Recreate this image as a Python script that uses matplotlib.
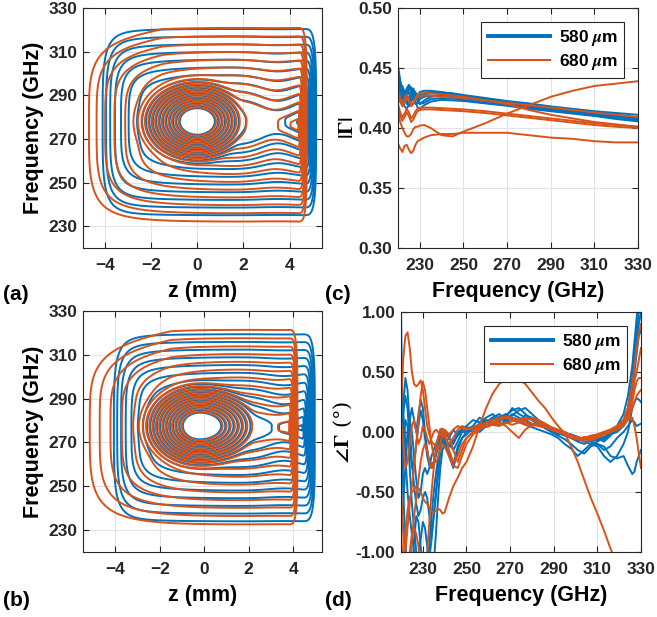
import numpy as np
import matplotlib
matplotlib.use("Agg")
import matplotlib.pyplot as plt
from matplotlib.lines import Line2D
from matplotlib.ticker import FormatStrFormatter

plt.rcParams["font.family"] = ["Liberation Sans", "DejaVu Sans"]
plt.rcParams["font.weight"] = "bold"
plt.rcParams["mathtext.fontset"] = "stix"

BLUE = "#0072BD"
ORANGE = "#D95319"

# ---------------------------------------------------------------- field maps
# Shape parameters of the four measured field maps:
#   z0/sl/sr  : wall position and left/right reach (mm)
#   f0/half   : band centre and half width (GHz)
#   wa/wq     : left-wall profile, tl: top-left roll-off
#   zn/an     : position and strength of the neck between spot and wall
#   zb/fb/kzl/kzr/slope/off : central spot
map_a_580 = dict(z0=4.6, sl=8.7, sr=0.55, f0=277.7, half=42.7, wa=0.55, wq=10, tl=0.0,
                 zn=3.5, an=6.0,
                 zb=0.0, fb=278.0, kzl=8.0, kzr=8.0, slope=3.0, off=38.5)
map_a_680 = dict(z0=4.35, sl=9.05, sr=0.40, f0=276.5, half=44.5, wa=0.7, wq=6, tl=0.04,
                 zn=3.4, an=6.0,
                 zb=0.0, fb=278.0, kzl=8.0, kzr=8.0, slope=3.0, off=38.5)
map_b_580 = dict(z0=4.4, sl=8.5, sr=0.60, f0=276.7, half=43.7, wa=0.55, wq=10, tl=0.0,
                 zn=3.6, an=5.0,
                 zb=-0.2, fb=277.5, kzl=8.0, kzr=6.3, slope=3.0, off=38.5)
map_b_680 = dict(z0=3.8, sl=8.9, sr=0.40, f0=277.0, half=44.0, wa=0.8, wq=5, tl=0.04,
                 zn=3.3, an=3.5,
                 zb=-0.2, fb=277.5, kzl=8.0, kzr=6.3, slope=3.0, off=38.5)

levels_580 = [-20.3, -16.8, -13.3, -9.8, -6.3, -2.8, 0.7, 4.2, 7.7, 11.2, 14.7,
              18.2, 21.7, 25.2, 28.7, 32.2, 35.7, 39.2, 42.7]
levels_680 = [-19.1, -15.6, -12.1, -8.6, -5.1, -1.6, 1.9, 5.4, 8.9, 12.4, 15.9,
              19.4, 22.9, 26.4, 29.9, 33.4, 36.9, 40.6, 44.4]

# ---------------------------------------------------------------- |Gamma|
freq_c = [220, 221, 222, 223, 224, 225, 226, 227, 228, 229, 230, 232, 235,
          240, 245, 250, 260, 270, 280, 290, 300, 310, 320, 330]
mag_580 = [
    [.452, .440, .432, .428, .433, .436, .433, .428, .425, .426, .428, .429, .430, .4295, .429, .4275, .425, .4225, .4205, .418, .416, .414, .4125, .411],
    [.440, .436, .430, .425, .428, .432, .434, .430, .425, .424, .426, .428, .429, .429, .428, .427, .4245, .422, .4195, .417, .415, .413, .411, .409],
    [.430, .437, .433, .426, .420, .424, .430, .433, .428, .422, .420, .423, .426, .427, .426, .425, .423, .4205, .418, .416, .414, .412, .410, .408],
    [.425, .430, .435, .430, .422, .418, .422, .428, .430, .425, .420, .421, .424, .425, .4245, .4235, .421, .419, .417, .4145, .4125, .4105, .4085, .407],
    [.420, .428, .425, .418, .416, .420, .426, .428, .422, .417, .416, .419, .422, .4235, .423, .4225, .4205, .4185, .416, .414, .412, .410, .4075, .4055],
    [.435, .430, .424, .422, .426, .430, .428, .423, .420, .421, .424, .426, .427, .427, .426, .425, .4225, .420, .4175, .415, .413, .411, .409, .407],
    [.445, .438, .428, .424, .430, .434, .431, .426, .424, .427, .430, .431, .431, .430, .4285, .4265, .424, .4215, .419, .4165, .4145, .4125, .4105, .4085],
]
mag_680 = [
    [.387, .383, .380, .385, .386, .382, .379, .381, .386, .389, .390, .392, .394, .395, .395, .396, .396, .396, .394, .392, .391, .389, .388, .388],
    [.412, .405, .400, .396, .393, .393, .395, .399, .401, .401, .402, .4025, .400, .394, .393, .397, .404, .412, .419, .426, .431, .435, .437, .439],
    [.420, .413, .409, .412, .416, .413, .408, .410, .414, .416, .417, .417, .417, .4165, .416, .4155, .414, .412, .410, .408, .406, .404, .4025, .401],
    [.416, .410, .406, .409, .413, .410, .405, .407, .411, .414, .415, .4155, .4155, .415, .4145, .414, .4125, .4105, .4085, .4065, .4045, .4025, .401, .400],
    [.432, .425, .420, .425, .428, .424, .418, .420, .425, .428, .429, .429, .429, .428, .427, .426, .423, .420, .415, .411, .408, .405, .403, .401],
    [.428, .422, .418, .421, .425, .423, .419, .421, .424, .426, .427, .427, .427, .426, .4255, .425, .423, .421, .419, .417, .415, .413, .411, .409],
]

# ---------------------------------------------------------------- phase (deg)
freq_d = [220, 221, 222, 223, 224, 225, 226, 227, 228, 229, 230, 231, 232, 233,
          234, 235, 236, 237, 238, 239, 240, 242, 244, 246, 248, 250, 253, 256,
          259, 262, 265, 268, 271, 274, 277, 280, 283, 286, 289, 292, 295, 298,
          301, 304, 307, 310, 313, 316, 319, 322, 324, 326, 327, 328, 329, 330]
phase_580 = [
    [1.05, -0.5, -0.9, -1.2, -1.3, -1.2, -0.9, -0.7, -0.75, -0.95, -1.1, -1.15, -1.1, -0.95, -0.7, -0.5, -0.35, -0.22, -0.12, -0.08, -0.1,
     -0.12, -0.08, -0.03, 0.0, 0.02,
     0.05, 0.03, 0.08, 0.12, 0.08, 0.14, 0.18, 0.2, 0.15, 0.1, 0.08, 0.05, 0.03, 0.0, -0.02, -0.05, -0.08, -0.1, -0.06, -0.05, -0.08, -0.03, 0.05, 0.15,
     0.3, 0.55, 0.75, 0.95, 1.1, 1.2],
    [-0.1, 0.2, 0.45, 0.35, 0.05, -0.25, -0.45, -0.6, -0.7, -0.65, -0.55, -0.5, -0.55, -0.7, -0.85, -0.7, -0.5, -0.3, -0.15, -0.05, -0.08,
     -0.2, -0.3, -0.15, -0.05, 0.0,
     0.02, 0.06, 0.05, 0.1, 0.13, 0.08, 0.12, 0.1, 0.08, 0.06, 0.07, 0.03, 0.0, -0.03, -0.06, -0.1, -0.15, -0.18, -0.12, -0.1, -0.12, -0.2, -0.22, -0.2,
     -0.28, -0.35, -0.33, -0.25, -0.2, -0.15],
    [0.3, 0.1, -0.1, -0.05, 0.1, 0.2, 0.1, 0.0, 0.15, 0.27, 0.2, 0.0, -0.15, -0.25, -0.27, -0.25, -0.18, -0.08, -0.03, -0.06, -0.12,
     -0.18, -0.27, -0.12, -0.05, -0.02,
     0.03, 0.0, 0.05, 0.08, 0.05, 0.1, 0.15, 0.12, 0.1, 0.07, 0.05, 0.04, 0.02, -0.01, -0.03, -0.05, -0.07, -0.05, -0.08, -0.06, -0.04, -0.02, 0.0, 0.05,
     0.15, 0.35, 0.5, 0.65, 0.8, 0.85],
    [-0.5, -0.2, 0.1, 0.05, -0.3, -0.6, -0.8, -1.0, -1.15, -1.25, -1.3, -1.25, -1.15, -1.05, -0.9, -0.7, -0.53, -0.35, -0.17, -0.05, 0.0,
     -0.05, -0.1, -0.02, 0.03, 0.05,
     0.1, 0.08, 0.12, 0.15, 0.1, 0.12, 0.2, 0.15, 0.12, 0.1, 0.06, 0.05, 0.0, -0.02, 0.0, -0.03, -0.05, -0.08, -0.1, -0.08, -0.05, 0.0, 0.05, 0.1,
     0.2, 0.45, 0.65, 0.85, 1.0, 1.1],
    [0.0, 0.15, 0.3, 0.2, -0.1, -0.3, -0.25, -0.1, 0.05, 0.18, 0.1, -0.05, -0.2, -0.28, -0.3, -0.28, -0.2, -0.12, -0.05, -0.02, -0.05,
     -0.1, -0.15, -0.08, 0.0, 0.0,
     0.05, 0.12, 0.08, 0.12, 0.15, 0.1, 0.14, 0.18, 0.2, 0.15, 0.1, 0.06, 0.03, 0.0, -0.02, -0.03, -0.05, -0.06, -0.08, -0.1, -0.15, -0.12, -0.05, 0.0,
     0.05, 0.1, 0.08, 0.05, 0.06, 0.07],
    [0.6, 0.2, -0.2, -0.5, -0.7, -0.85, -1.0, -1.1, -1.05, -0.9, -0.75, -0.8, -0.95, -1.1, -1.2, -1.1, -0.85, -0.55, -0.3, -0.15, -0.1,
     -0.05, 0.02, -0.03, 0.02, 0.03,
     0.0, 0.05, 0.1, 0.06, 0.12, 0.15, 0.1, 0.08, 0.14, 0.12, 0.08, 0.07, 0.03, 0.01, -0.01, -0.02, -0.04, -0.06, -0.05, -0.07, -0.06, -0.02, 0.02, 0.08,
     0.18, 0.4, 0.55, 0.75, 0.9, 1.0],
    [-0.9, -0.6, -0.3, 0.0, 0.1, 0.0, -0.2, -0.4, -0.55, -0.5, -0.35, -0.3, -0.35, -0.3, -0.2, -0.15, -0.1, -0.05, 0.0, -0.02, -0.08,
     -0.12, -0.05, 0.0, 0.02, 0.04,
     0.03, 0.07, 0.1, 0.08, 0.06, 0.08, 0.12, 0.1, 0.06, 0.04, 0.02, 0.0, -0.02, -0.05, -0.1, -0.14, -0.2, -0.15, -0.1, -0.12, -0.2, -0.25, -0.2, -0.1,
     0.0, 0.2, 0.25, 0.28, 0.27, 0.25],
]
phase_680 = [
    [-1.3, -1.1, -0.85, -0.65, -0.55, -0.5, -0.48, -0.45, -0.47, -0.5, -0.55, -0.58, -0.6, -0.63, -0.66, -0.67, -0.66, -0.64, -0.65, -0.68, -0.67,
     -0.55, -0.45, -0.38, -0.3, -0.25,
     -0.12, 0.05, 0.2, 0.32, 0.4, 0.44, 0.47, 0.44, 0.4, 0.33, 0.26, 0.2, 0.12, 0.05, -0.01, -0.12, -0.25, -0.4, -0.55, -0.68, -0.82, -0.97, -1.1, -1.2,
     -1.3, -1.3, -1.3, -1.3, -1.3, -1.3],
    [0.2, 0.6, 0.8, 0.83, 0.7, 0.5, 0.4, 0.38, 0.4, 0.43, 0.35, 0.2, 0.05, -0.02, -0.08, -0.1, -0.12, -0.14, -0.1, -0.02, 0.0,
     -0.15, -0.25, -0.2, -0.1, -0.05,
     0.0, 0.03, 0.05, 0.07, 0.08, 0.05, 0.0, -0.05, 0.02, 0.06, 0.08, 0.06, 0.03, 0.0, -0.02, -0.04, -0.05, -0.06, -0.04, -0.02, 0.0, 0.02, 0.05, 0.1,
     0.2, 0.4, 0.55, 0.7, 0.82, 0.9],
    [-0.5, -0.8, -1.1, -1.2, -1.1, -0.9, -0.7, -0.55, -0.4, -0.25, -0.15, -0.1, -0.15, -0.25, -0.3, -0.25, -0.15, -0.05, 0.02, 0.03, 0.0,
     -0.03, -0.15, -0.25, -0.15, -0.05,
     0.0, 0.05, 0.08, 0.1, 0.12, 0.13, 0.12, 0.1, 0.12, 0.1, 0.08, 0.05, 0.02, 0.0, -0.02, -0.05, -0.06, -0.05, -0.03, -0.02, 0.0, 0.02, 0.05, 0.08,
     0.15, 0.3, 0.42, 0.5, 0.6, 0.7],
    [-1.3, -1.2, -1.0, -0.8, -0.6, -0.45, -0.3, -0.1, 0.1, 0.3, 0.42, 0.35, 0.2, 0.05, -0.1, -0.2, -0.25, -0.22, -0.15, -0.1, -0.12,
     -0.2, -0.28, -0.3, -0.2, -0.1,
     -0.02, 0.02, 0.05, 0.08, 0.1, 0.12, 0.1, 0.08, 0.1, 0.12, 0.1, 0.07, 0.04, 0.02, 0.0, -0.03, -0.04, -0.06, -0.05, -0.03, -0.01, 0.0, 0.03, 0.06,
     0.1, 0.2, 0.25, 0.3, 0.33, 0.35],
    [-0.8, -1.2, -1.3, -1.2, -1.0, -0.85, -0.8, -0.85, -0.95, -1.1, -1.2, -1.2, -1.0, -0.75, -0.5, -0.3, -0.15, -0.05, 0.02, 0.0, -0.05,
     -0.1, -0.05, 0.02, 0.05, 0.03,
     0.02, 0.04, 0.06, 0.08, 0.06, 0.07, 0.09, 0.1, 0.08, 0.07, 0.05, 0.04, 0.02, 0.01, -0.01, -0.03, -0.06, -0.08, -0.07, -0.05, -0.02, 0.0, 0.04, 0.08,
     0.12, 0.25, 0.35, 0.42, 0.45, 0.45],
    [0.1, -0.1, -0.3, -0.25, -0.1, 0.05, 0.1, 0.0, -0.1, -0.05, 0.05, 0.02, -0.05, -0.1, -0.05, 0.0, 0.02, 0.0, -0.03, 0.0, 0.02,
     -0.02, 0.02, 0.05, 0.03, 0.02,
     0.04, 0.06, 0.04, 0.06, 0.05, 0.08, 0.06, 0.08, 0.06, 0.05, 0.06, 0.04, 0.02, 0.0, -0.02, -0.04, -0.06, -0.04, -0.06, -0.04, -0.02, 0.0, 0.02, 0.05,
     0.1, 0.12, 0.05, -0.05, -0.18, -0.3],
]


def field_map(Z, F, p):
    """Wall-type rectangle field blended with an elliptical central spot."""
    left = Z < p["z0"]
    ul = np.clip((p["z0"] - Z) / p["sl"], 0, None)
    ur = np.clip((Z - p["z0"]) / p["sr"], 0, None)
    w = np.where(left, p["wa"] * ul + (1 - p["wa"]) * ul ** p["wq"], ur)
    top_scale = 1 - p["tl"] * np.clip(-1.5 - Z, 0, None)
    scale = np.where(F > p["f0"], p["half"] * top_scale, p["half"])
    v = np.abs(F - p["f0"]) / scale
    rect = p["half"] * (v ** 4 + w ** 4) ** 0.25
    rect = rect + p["an"] * np.exp(-((Z - p["zn"]) / 1.1) ** 2 - ((F - p["f0"]) / 22.0) ** 2)
    kz = np.where(Z < p["zb"], p["kzl"], p["kzr"])
    rho = np.hypot(kz * (Z - p["zb"]), F - p["fb"])
    spot = p["slope"] * rho - p["off"]
    s = 2.0
    lo = np.minimum(rect, spot)
    return lo - s * np.log1p(np.exp(-np.abs(rect - spot) / s))


def style_axes(ax):
    ax.set_axisbelow(True)
    ax.grid(True, color="#e3e3e3", linewidth=0.8)
    ax.tick_params(direction="in", length=4, width=0.8, top=True, right=True,
                   labelsize=12.5, colors="#262626")
    ax.tick_params(axis="x", pad=7)
    ax.tick_params(axis="y", pad=4)
    for s in ax.spines.values():
        s.set_color("#262626")
        s.set_linewidth(0.8)


W, H = 657, 617
fig = plt.figure(figsize=(W / 100, H / 100), dpi=100)


def add_ax(l, r, t, b):
    return fig.add_axes([l / W, 1 - b / H, (r - l) / W, (b - t) / H])


ax_a = add_ax(83, 322, 8, 248)
ax_c = add_ax(398, 638, 8, 248)
ax_b = add_ax(83, 322, 311, 552)
ax_d = add_ax(401, 641, 312, 552)

zg = np.linspace(-6.5, 6.5, 800)
fg = np.linspace(212, 338, 800)
Zg, Fg = np.meshgrid(zg, fg)

LABEL = dict(fontsize=15.5, fontweight="bold")

for ax, m580, m680, xl in [(ax_a, map_a_580, map_a_680, (-4.95, 5.4)),
                           (ax_b, map_b_580, map_b_680, (-5.45, 5.3))]:
    style_axes(ax)
    ax.contour(Zg, Fg, field_map(Zg, Fg, m580), levels=levels_580,
               colors=BLUE, linewidths=1.4, negative_linestyles="solid")
    ax.contour(Zg, Fg, field_map(Zg, Fg, m680), levels=levels_680,
               colors=ORANGE, linewidths=1.4, negative_linestyles="solid")
    ax.set_xlim(*xl)
    ax.set_ylim(220, 330)
    ax.set_xticks([-4, -2, 0, 2, 4])
    ax.set_yticks([230, 250, 270, 290, 310, 330])
    ax.set_xlabel("z (mm)", labelpad=6, **LABEL)
    ax.set_ylabel("Frequency (GHz)", labelpad=3, **LABEL)

# |Gamma|
style_axes(ax_c)
for y in mag_580:
    ax_c.plot(freq_c, y, color=BLUE, lw=1.4)
for y in mag_680:
    ax_c.plot(freq_c, y, color=ORANGE, lw=1.4)
ax_c.set_xlim(220, 330)
ax_c.set_ylim(0.30, 0.50)
ax_c.set_xticks([230, 250, 270, 290, 310, 330])
ax_c.set_yticks([0.30, 0.35, 0.40, 0.45, 0.50])
ax_c.yaxis.set_major_formatter(FormatStrFormatter("%.2f"))
ax_c.set_xlabel("Frequency (GHz)", labelpad=6, **LABEL)
ax_c.set_ylabel(r"$|\Gamma|$", fontsize=15, labelpad=1)

# phase
style_axes(ax_d)
for y in phase_580:
    ax_d.plot(freq_d, y, color=BLUE, lw=1.4)
for y in phase_680:
    ax_d.plot(freq_d, y, color=ORANGE, lw=1.4)
ax_d.set_xlim(220, 330)
ax_d.set_ylim(-1, 1)
ax_d.set_xticks([230, 250, 270, 290, 310, 330])
ax_d.set_yticks([-1.0, -0.5, 0.0, 0.5, 1.0])
ax_d.yaxis.set_major_formatter(FormatStrFormatter("%.2f"))
ax_d.set_xlabel("Frequency (GHz)", labelpad=6, **LABEL)
ax_d.set_ylabel(r"$\angle\Gamma$ (°)", fontsize=15, fontweight="normal",
                family=["DejaVu Serif"], labelpad=1)

handles = [Line2D([], [], color=BLUE, lw=2.8), Line2D([], [], color=ORANGE, lw=1.5)]
labels = [r"580 $\mu$m", r"680 $\mu$m"]
for ax in (ax_c, ax_d):
    leg = ax.legend(handles, labels, loc="upper right",
                    prop={"weight": "bold", "size": 12.5},
                    frameon=True, fancybox=False, edgecolor="#262626",
                    handlelength=3.6, handletextpad=0.5, borderaxespad=0.8,
                    borderpad=0.35, labelspacing=0.25, framealpha=1)
    leg.get_frame().set_linewidth(0.8)

for txt, x, y in [("(a)", 3, 294), ("(c)", 325, 294), ("(b)", 3, 600), ("(d)", 325, 600)]:
    fig.text(x / W, 1 - y / H, txt, fontsize=15, fontweight="bold", va="center", ha="left")

fig.savefig("out.png", dpi=100)
